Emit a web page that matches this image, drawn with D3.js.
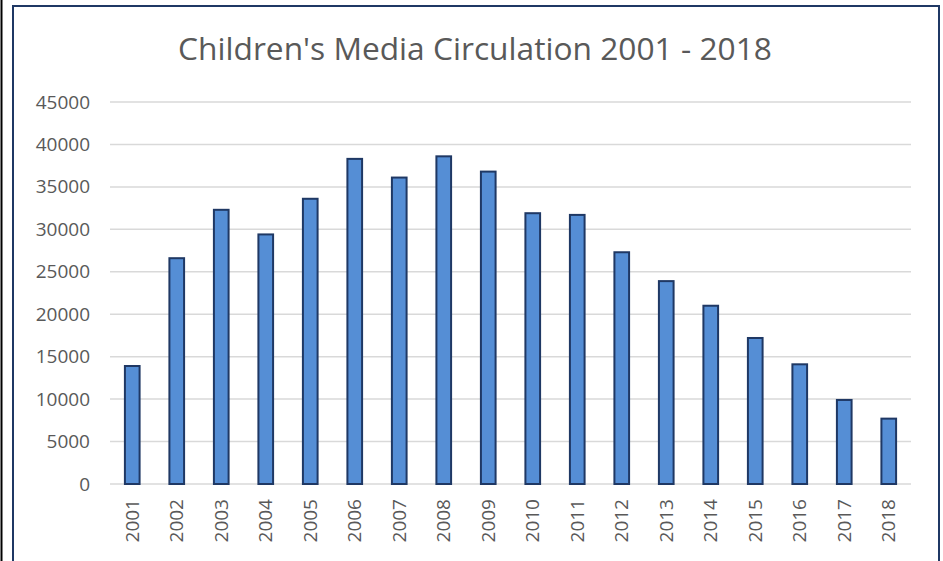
<!DOCTYPE html>
<html lang="en">
<head>
<meta charset="UTF-8">
<title>Children's Media Circulation</title>
<script src="https://d3js.org/d3.v7.min.js"></script>
<style>
  body { margin: 0; background: #fff; }
  svg { display: block; font-family: "Open Sans", "Liberation Sans", sans-serif; }
</style>
</head>
<body>
<svg width="943" height="561"></svg>
<script>
// chart data
const years = ["2001","2002","2003","2004","2005","2006","2007","2008","2009",
               "2010","2011","2012","2013","2014","2015","2016","2017","2018"];
const circulation = [13900, 26600, 32300, 29400, 33600, 38300, 36100, 38600, 36800,
                     31900, 31700, 27300, 23900, 21000, 17200, 14100, 9900, 7700];
const yTicks = [0, 5000, 10000, 15000, 20000, 25000, 30000, 35000, 40000, 45000];
const title = "Children's Media Circulation 2001 - 2018";

const svg = d3.select("svg");

// outer frame lines
svg.append("line")
    .attr("x1", 1.5).attr("x2", 1.5).attr("y1", 0).attr("y2", 561)
    .attr("stroke", "#000").attr("stroke-width", 2);
svg.append("rect")
    .attr("x", 13).attr("y", 6).attr("width", 926).attr("height", 570)
    .attr("fill", "#fff").attr("stroke", "#1f3864").attr("stroke-width", 2);

const plot = { left: 110, right: 911, top: 102, bottom: 484 };

const x = d3.scaleBand().domain(years).range([plot.left, plot.right]).paddingInner(0.67).paddingOuter(0.335);
const y = d3.scaleLinear().domain([0, 45000]).range([plot.bottom, plot.top]);

// gridlines
svg.append("g")
    .selectAll("line")
    .data(yTicks)
    .join("line")
    .attr("x1", plot.left).attr("x2", plot.right)
    .attr("y1", d => y(d)).attr("y2", d => y(d))
    .attr("stroke", "#d9d9d9").attr("stroke-width", 1.5);

// y axis labels
const yAxis = svg.append("g")
    .attr("transform", `translate(${plot.left},0)`)
    .call(d3.axisLeft(y).tickValues(yTicks).tickFormat(d3.format("d")).tickSize(0).tickPadding(20));
yAxis.select(".domain").remove();
yAxis.selectAll("text").attr("fill", "#595959").style("font-size", "19px").attr("font-family", null);

// bars
svg.append("g")
    .selectAll("rect")
    .data(circulation)
    .join("rect")
    .attr("x", (d, i) => x(years[i]))
    .attr("y", d => y(d))
    .attr("width", x.bandwidth())
    .attr("height", d => y(0) - y(d))
    .attr("fill", "#558ed5")
    .attr("stroke", "#1f3864")
    .attr("stroke-width", 2);

// x axis labels (rotated)
const xAxis = svg.append("g")
    .attr("transform", `translate(0,${plot.bottom})`)
    .call(d3.axisBottom(x).tickSize(0).tickPadding(0));
xAxis.select(".domain").remove();
xAxis.attr("font-family", null);
xAxis.selectAll("text")
    .attr("fill", "#595959")
    .style("font-size", "19px")
    .attr("text-anchor", "end")
    .attr("dy", "0.35em")
    .attr("transform", "translate(0,15) rotate(-90)")
    .attr("x", 0).attr("y", 0);
yAxis.attr("font-family", null);

// title
const t = svg.append("text")
    .attr("x", 475).attr("y", 60)
    .attr("text-anchor", "middle")
    .attr("fill", "#595959")
    .style("font-size", "28px")
    .text(title);
const w = t.node().getComputedTextLength();
t.style("font-size", (28 * 594 / w) + "px");
</script>
</body>
</html>
